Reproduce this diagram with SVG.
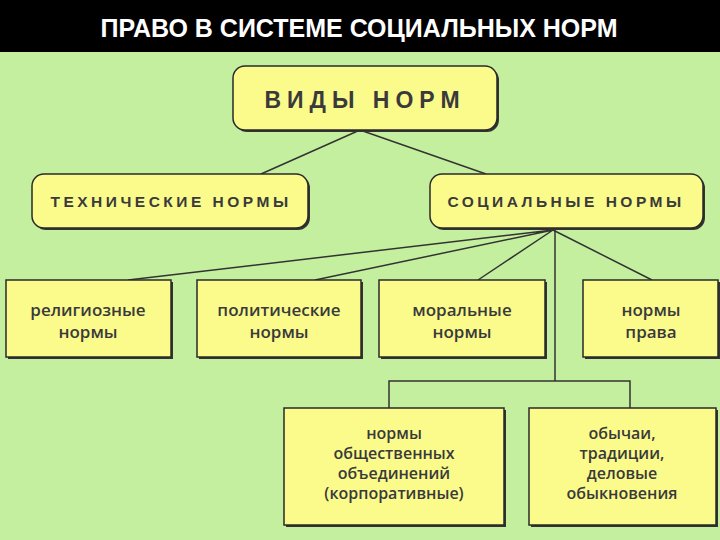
<svg xmlns="http://www.w3.org/2000/svg" width="720" height="540" viewBox="0 0 720 540">
<defs><style>
.b{fill:#fbfb8c;stroke:#2a2a2a;stroke-width:1.5}
.s{fill:#333}
.t{font-family:"Open Sans","DejaVu Sans",sans-serif;font-size:17px;font-weight:600;fill:#3a3a3a;text-anchor:middle}
.u{font-family:"Open Sans","DejaVu Sans",sans-serif;font-size:16px;font-weight:600;fill:#3a3a3a;text-anchor:middle}
.h{font-family:"Liberation Sans",sans-serif;font-weight:bold;fill:#3a3a3a;text-anchor:middle}
.c{stroke:#333;stroke-width:1.5;fill:none}
</style></defs>
<rect width="720" height="540" fill="#c4ef9e"/>
<rect width="720" height="52" fill="#000"/>
<text x="359" y="37" font-family="Liberation Sans,Arial,sans-serif" font-weight="bold" font-size="25" fill="#fff" text-anchor="middle">ПРАВО В СИСТЕМЕ СОЦИАЛЬНЫХ НОРМ</text>
<g id="connectors" class="c">
<path d="M360 130L261 174M360 130L486 174"/>
<path d="M553 230L128 280M553 230L315 280M553 230L478 280M553 230L652 280"/>
<path d="M555 230V381M389 408V381H630V408"/>
</g>
<g id="n0"><rect x="235" y="68" width="264" height="64" rx="12" class="s"/><rect x="233" y="66" width="264" height="64" rx="12" class="b"/><text x="365" y="108" class="h" font-size="23" letter-spacing="6">ВИДЫ НОРМ</text></g>
<g id="n1"><rect x="34" y="176" width="276" height="54" rx="12" class="s"/><rect x="32" y="174" width="276" height="54" rx="12" class="b"/><text x="171" y="207" class="h" font-size="15.5" letter-spacing="3.5">ТЕХНИЧЕСКИЕ НОРМЫ</text></g>
<g id="n2"><rect x="432" y="176" width="273" height="54" rx="12" class="s"/><rect x="430" y="174" width="273" height="54" rx="12" class="b"/><text x="566" y="207" class="h" font-size="15.5" letter-spacing="3.5">СОЦИАЛЬНЫЕ НОРМЫ</text></g>
<g id="n3"><rect x="8" y="282" width="165" height="77" class="s"/><rect x="6" y="280" width="165" height="77" class="b"/><text x="88" y="316" class="t">религиозные</text><text x="88" y="338" class="t">нормы</text></g>
<g id="n4"><rect x="199" y="282" width="164" height="77" class="s"/><rect x="197" y="280" width="164" height="77" class="b"/><text x="279" y="316" class="t">политические</text><text x="279" y="338" class="t">нормы</text></g>
<g id="n5"><rect x="381" y="282" width="166" height="77" class="s"/><rect x="379" y="280" width="166" height="77" class="b"/><text x="462" y="316" class="t">моральные</text><text x="462" y="338" class="t">нормы</text></g>
<g id="n6"><rect x="585" y="282" width="135" height="77" class="s"/><rect x="583" y="280" width="135" height="77" class="b"/><text x="651" y="316" class="t">нормы</text><text x="651" y="338" class="t">права</text></g>
<g id="n7"><rect x="286" y="410" width="220" height="117" class="s"/><rect x="284" y="408" width="220" height="117" class="b"/><text x="394" y="439" class="u">нормы</text><text x="394" y="459" class="u">общественных</text><text x="394" y="479" class="u">объединений</text><text x="394" y="499" class="u">(корпоративные)</text></g>
<g id="n8"><rect x="531" y="410" width="187" height="117" class="s"/><rect x="529" y="408" width="187" height="117" class="b"/><text x="622" y="439" class="u">обычаи,</text><text x="622" y="459" class="u">традиции,</text><text x="622" y="479" class="u">деловые</text><text x="622" y="499" class="u">обыкновения</text></g>
</svg>
